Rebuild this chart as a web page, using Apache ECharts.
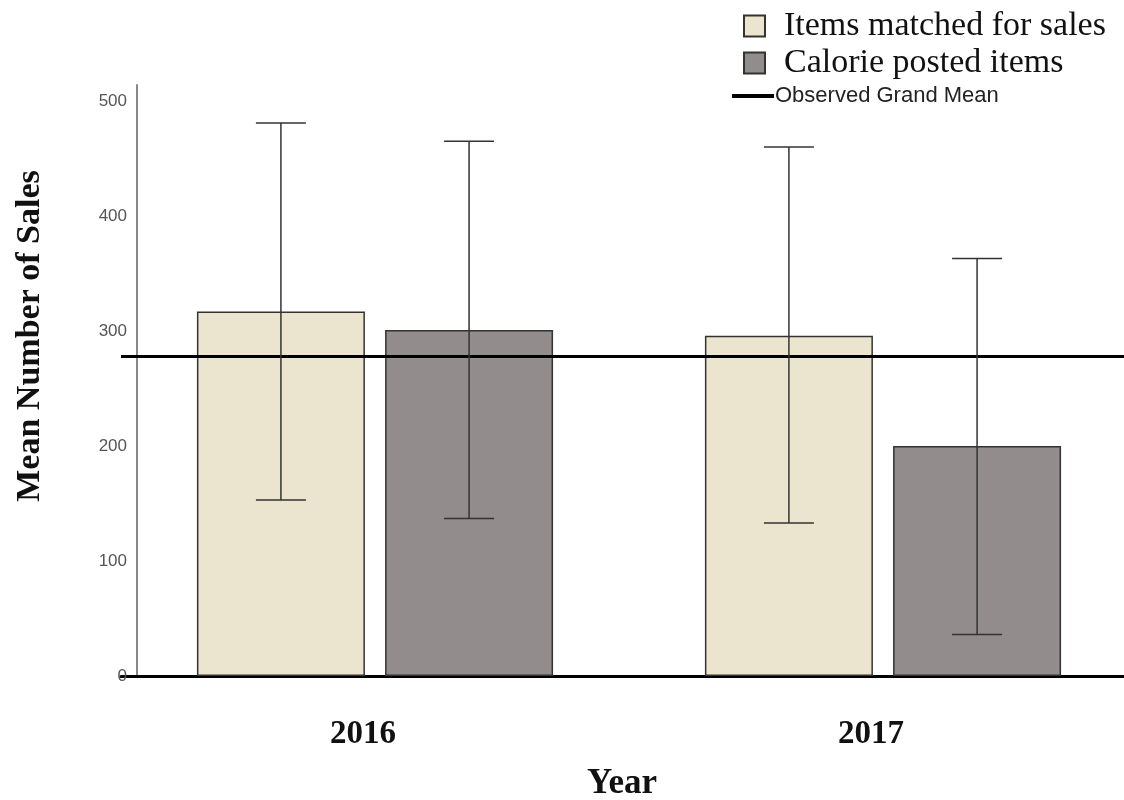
<!DOCTYPE html>
<html><head><meta charset="utf-8">
<script src="https://cdn.jsdelivr.net/npm/echarts@6/dist/echarts.min.js"></script>
<style>html,body{margin:0;padding:0;background:#fff}#c{width:1124px;height:800px}</style>
</head><body><div id="c"></div>
<script>
const years = ['2016', '2017'];
const itemsMatched = [317, 296];
const itemsMatchedLow = [153, 133];
const itemsMatchedHigh = [481, 460];
const caloriePosted = [301, 200];
const caloriePostedLow = [137, 36];
const caloriePostedHigh = [465, 363];
const grandMean = 278;
const yTicks = [0, 100, 200, 300, 400, 500];

const chart = echarts.init(document.getElementById('c'));
const serif = '"Liberation Serif", "Times New Roman", serif';
const sans = '"Liberation Sans", Arial, sans-serif';
const BW = 168;

function errSeries(name, low, high, idx) {
  return {
    type: 'custom', name: name + ' err', silent: true, z: 5,
    data: years.map((y, i) => [i, low[i], high[i]]),
    renderItem: function (params, api) {
      const ci = api.value(0);
      const lo = api.coord([ci, api.value(1)]);
      const hi = api.coord([ci, api.value(2)]);
      const gap = BW * 0.12;
      const offset = (idx === 0 ? -1 : 1) * (BW + gap) / 2;
      const x = lo[0] + offset;
      const cap = 25;
      const st = { stroke: '#333', lineWidth: 1.5 };
      return { type: 'group', children: [
        { type: 'line', shape: { x1: x, y1: lo[1], x2: x, y2: hi[1] }, style: st },
        { type: 'line', shape: { x1: x - cap, y1: hi[1], x2: x + cap, y2: hi[1] }, style: st },
        { type: 'line', shape: { x1: x - cap, y1: lo[1], x2: x + cap, y2: lo[1] }, style: st }
      ]};
    }
  };
}

chart.setOption({
  animation: false,
  grid: { left: 121, right: -13, top: 85, bottom: 124, outerBoundsMode: 'none', containLabel: false },
  legend: [{
    data: [{ name: 'Items matched for sales', icon: 'rect' }, { name: 'Calorie posted items', icon: 'rect' }],
    orient: 'vertical', left: 738, top: 4, itemGap: 3,
    itemWidth: 21, itemHeight: 21,
    textStyle: { fontFamily: serif, fontSize: 34, color: '#111', padding: [0, 0, 0, 14] }
  }, {
    data: [{ name: 'Observed Grand Mean', icon: 'rect' }],
    left: 727, top: 80, itemWidth: 42, itemHeight: 4, itemGap: 4,
    textStyle: { fontFamily: sans, fontSize: 22, color: '#222', padding: [0, 0, 0, -4] }
  }],
  graphic: [{
    type: 'text', x: 30, y: 336, rotation: Math.PI / 2,
    style: { text: 'Mean Number of Sales', fontFamily: serif, fontWeight: 'bold', fontSize: 34,
      fill: '#111', align: 'center', verticalAlign: 'middle' }
  }],
  xAxis: {
    type: 'category', data: years,
    axisLine: { lineStyle: { color: '#000', width: 3 } },
    axisTick: { show: false },
    axisLabel: { fontFamily: serif, fontWeight: 'bold', fontSize: 33, color: '#111', margin: 42,
      padding: [0, 24, 0, 0] },
    name: 'Year', nameLocation: 'middle', nameGap: 90,
    nameTextStyle: { fontFamily: serif, fontWeight: 'bold', fontSize: 35, color: '#111',
      padding: [0, 14, 0, 0] }
  },
  yAxis: {
    type: 'value', min: 0, max: 514, interval: 100, offset: -16,
    axisLine: { show: true, lineStyle: { color: '#888', width: 2 } },
    axisTick: { show: false },
    splitLine: { show: false },
    axisLabel: { fontFamily: sans, fontSize: 17, color: '#555', margin: 10,
      formatter: v => yTicks.includes(v) ? String(v) : '' }
  },
  series: [{
    name: 'Items matched for sales', type: 'bar', data: itemsMatched,
    barWidth: BW, barGap: '12%',
    itemStyle: { color: '#ebe4cf', borderColor: '#333', borderWidth: 1.5 }
  }, {
    name: 'Calorie posted items', type: 'bar', data: caloriePosted,
    barWidth: BW,
    itemStyle: { color: '#928d8c', borderColor: '#333', borderWidth: 1.5 }
  },
  errSeries('im', itemsMatchedLow, itemsMatchedHigh, 0),
  errSeries('cp', caloriePostedLow, caloriePostedHigh, 1),
  {
    name: 'Observed Grand Mean', type: 'line', data: [],
    itemStyle: { color: '#000' }, lineStyle: { color: '#000', width: 4 },
    symbol: 'none',
    markLine: { silent: true, symbol: 'none', label: { show: false },
      lineStyle: { color: '#000', width: 3, type: 'solid' },
      data: [{ yAxis: grandMean }] }
  }]
});
</script></body></html>
